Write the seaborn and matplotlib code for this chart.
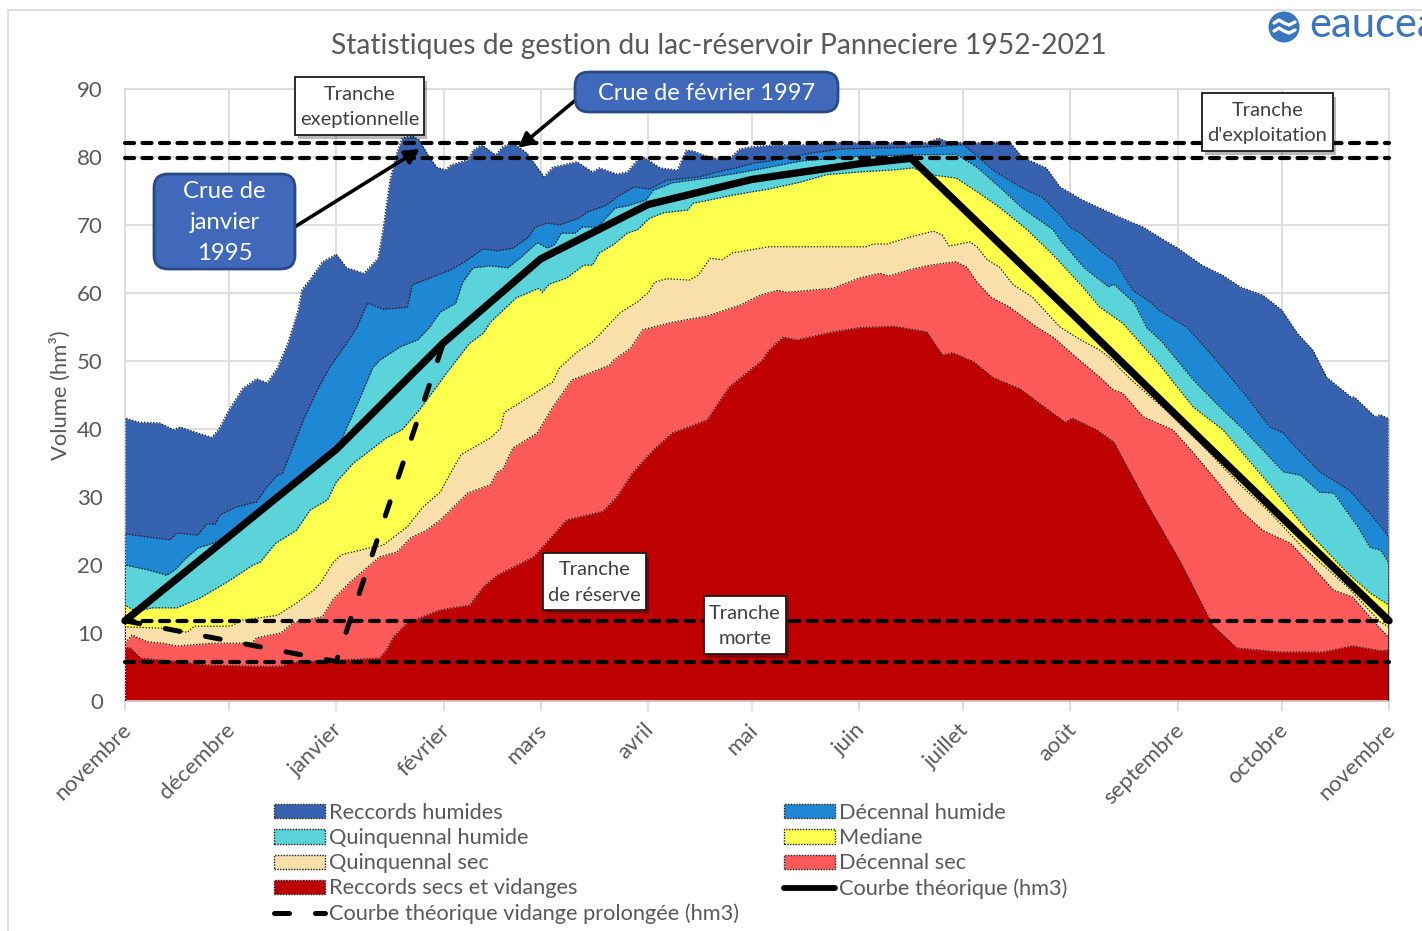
import matplotlib
matplotlib.use("Agg")
import matplotlib.pyplot as plt
import seaborn as sns
import pandas as pd
from matplotlib.patches import Rectangle, FancyBboxPatch, FancyArrowPatch, Circle, Patch
from matplotlib.lines import Line2D

month_days = [0, 30, 61, 92, 120, 151, 181, 212, 242, 273, 304, 334, 365]
month_labels = ["novembre", "décembre", "janvier", "février", "mars", "avril", "mai", "juin",
                "juillet", "août", "septembre", "octobre", "novembre"]

rec_hum_d = [0,4,10,14,16,21,25,27,30,34,38,41,44,47,50,51,54,57,61,64,66,69,73,74.5,76.5,78.5,80,83,85,87.5,90,92.5,94,99,100.5,103,107,109,112,116,119,121,123.5,130.5,135,137,142,145,148,150,154.5,159.5,162,164,167,171,175,177.5,181,188,196,203,222,231.5,235,237.5,246,255.5,259,266,270,276,287,294,300,304,311,317,322,328.5,334,338.5,343,347,354,355,361,362.5,365]
rec_hum_v = [41.6,41,40.9,39.9,40.3,39.4,38.8,39.9,42.8,46,47.4,46.8,49,52.6,57.5,60.4,62.4,64.6,65.7,63.7,63.4,62.9,65.1,69.3,76.6,80.6,82.8,83.1,82.5,80.3,78.5,78.1,78.8,79.6,81,81.8,80.3,81.5,82.1,80.6,78.5,77.1,78.5,79.3,77.8,78.4,77.5,77.8,79.6,79.9,78.4,78.1,81,80.9,80.3,79.7,80,81.2,81.5,81.8,81.8,82.1,82.1,82.1,82.8,82.2,82.1,82.2,80,78.4,75.6,73.8,71.2,69.7,67.8,66.6,64.1,62.6,60.9,59.7,57.5,54.1,51.6,47.6,44.7,44.7,41.8,42.1,41.5]

dec_hum_d = [0,4,13,15,21,23.5,26,27.5,32,38,41,44,45.5,48.5,51.5,55.5,59,64,67,70,74.5,81.5,83,89,94,97.5,103.5,107.5,112,116.5,118.5,122,125.5,131,133.5,139,142,147,151.5,156.5,166,171,176.5,181.5,186,198.5,207,217,231.5,242,245,250.5,258.5,265,270,273,276,281.5,286,291,296,298.5,306.5,310.5,317,324,330.5,334.5,337,345,353.5,359.5,365]
dec_hum_v = [24.6,24.3,23.7,24.7,24.4,26,26,27.4,28.5,29.3,31.5,33.2,33.5,37.4,41.3,45.7,49,52.6,55,58.5,57.6,57.9,61.2,62.4,63.4,64.4,66.5,66.2,66.6,68.2,69.7,70.3,70,71,71.9,72.9,74.1,75.6,75.3,76.6,77.1,77.8,78.4,79.1,79.4,80.6,81.2,81.3,81.5,81.8,80.6,78.1,75.6,74,71.5,69.6,68.8,66.3,64.6,60.4,58.7,57.5,55,52.8,49,44.7,40.3,39.4,37.9,33.7,31,27.6,24.1]

qui_hum_d = [0,6.5,12,14.5,17,21,25.5,32,37,42,47.5,55,61,63.5,66,69.5,71.5,73.5,79.5,84.5,88,91,95.5,97.5,100.5,105.5,110.5,114,119,122,124,126,130,132,136.5,141.5,145,150.5,152.5,158,168,176.5,186,195,212,226.5,240,246,252.5,259,268,270,277,284,285.5,291.5,295,299.5,308.5,317,323,334.5,339.5,345,349,356,359.5,362.5,365]
qui_hum_v = [20,19.3,18.5,19.3,20.7,22.5,23.2,25.1,26.9,29.1,31.8,34.7,36.9,39.6,42.4,46.5,49,50.1,52.1,53.1,55,57.2,58.5,61.6,63.7,64,63.7,65.1,67.4,66.6,67.1,68.8,68.8,69.7,69.7,72.5,72.8,73.7,75.1,76.2,76.9,77.6,78.5,79.4,80.1,80.3,80.4,78.5,75.6,72.5,69.3,67.8,63.7,60.9,61.3,58.5,54.9,52.8,47.2,42.8,39.9,33.7,33.2,30.7,30.6,25.6,22.6,22.2,20.3]

mediane_d = [0,3,8,15,21.5,29.5,37,39,43.5,49.5,53.5,58.5,61,66,75.5,80,85,94,99.5,103.5,105.5,113,119.5,120.5,122.5,127.5,132.5,135,137,141,145,148,151.5,155.5,162.5,164,169,175.5,186,195,202.5,212,222,227.5,232.5,240,246,252.5,260.5,268,276,281.5,288,298,308.5,317,324,332.5,342,353,359.5,365]
mediane_v = [14.1,13.2,13.7,13.7,15.1,17.5,20,20.4,23.2,25.1,28.1,29.6,32.2,35,38.7,39.9,42.8,49,52.6,54.1,55.7,59.3,60.7,60.1,61.3,62.2,64.1,64.1,65.9,67.1,68.8,69.3,71,71.8,72.2,73.2,73.7,74.4,75.3,76.3,77.4,77.8,78.1,78.4,77.4,76.9,74.9,72.6,69.3,65.6,61.2,57.9,55.6,49.9,43.2,39.9,35.7,30.6,24.7,18.8,15.9,14.1]

qui_sec_d = [0,11,18,20,30.5,34,44,49.5,54.5,56.5,60,62.5,70.5,74.5,81.5,86,91,94,97,105.5,108.5,109.5,123.5,125.5,130.5,135,143,148,151,153,156.5,163,165.5,169,172.5,175.5,186,193,214,216,220,226.5,233.5,236,238,244,246,249,252.5,256.5,262,270,276,281.5,284.5,290,300.5,310.5,322,330.5,339.5,353,362.5,365]
qui_sec_v = [10.9,10.7,10.1,11,11,11.9,12.6,14.4,16.3,17.4,20.3,21.5,22.5,22.9,25.6,28.5,30.7,33.5,36.2,38.7,40.1,42.4,46.9,49,51.3,52.8,57.1,58.7,60,61.6,62.1,61.9,62.6,65.1,64.9,65.9,66.8,66.8,66.8,67.2,67.2,68.2,69.1,68.5,66.9,67.5,66.8,64.9,63.8,61.2,59.4,55,53.1,51.6,50.4,47.5,42.8,37.9,31.8,27.8,22.9,16.8,11.6,10.9]

dec_sec_d = [0,2,6.5,11,15,25.5,36.5,38,45,48.5,57,60,65,68,73.5,78.5,82.5,87,91,99,105.5,107.5,109,112,119,123.5,129,140,141,146,149.5,158,168,177.5,183.5,188.5,191,204.5,212,218,220.5,226.5,232.5,240,243,246,250,255.5,263.5,268,275,281.5,285.5,288,294,298,302.5,308.5,315.5,322,328.5,336.5,343,349,354.5,362,365]
dec_sec_v = [8.5,9.7,8.7,8.5,8.1,8.5,8.5,9.3,10,11.5,12.4,14.9,17.5,18.8,21.2,21.9,24,25.1,26.6,30.6,31.8,33.7,34,37.2,39.4,43.2,47.2,49.4,50.1,51.9,54.6,55.7,56.6,58.2,59.7,60.4,60.1,60.7,62.2,62.9,62.5,63.4,64.1,64.6,63.8,61.6,59.4,57.9,54.9,53.5,50.4,47.6,45.7,45.3,41.8,40.9,39.9,36.5,32.2,28.1,25.1,23.2,19.7,16.3,15.3,10.9,9.3]

rec_sec_d = [0,1.5,4.5,13,23.5,37,45,48.5,73.5,75.5,77.5,81.5,91,99.5,103.5,107.5,118,127.5,138,142,146.5,152.5,158,168,174.5,184,186,190,194,204.5,212,222,231.5,236,239,245,250.5,258.5,265,271.5,273.5,280.5,285.5,295,304.5,314,321,333.5,346,354.5,362.5,365]
rec_sec_v = [7.8,7.8,6.3,5.9,5.3,5.1,5.1,5.7,6.3,7.5,9.4,11.5,13.4,14.1,16.8,18.5,21.2,26.6,27.9,30,33.5,36.9,39.4,41.3,46.2,50.1,51.6,53.5,53.1,54.3,54.9,55.1,54.3,50.9,51.2,49.9,47.6,45.9,43.4,41,41.6,39.9,38.1,29.1,20.7,11.2,7.8,7.2,7.2,8.1,7.4,7.5]

theo_d = [0, 61, 92, 120, 151, 181, 212, 227, 273, 304, 334, 365]
theo_v = [11.8, 37, 52.7, 65, 73, 76.7, 79, 79.8, 57.2, 41.8, 27, 11.8]
prol_d = [0, 61, 92]
prol_v = [11.8, 5.8, 52.7]
seuils = [82.1, 79.8, 11.7, 5.7]

series = [("Reccords humides", rec_hum_d, rec_hum_v, "#3762b0"),
          ("Décennal humide", dec_hum_d, dec_hum_v, "#1f88d4"),
          ("Quinquennal humide", qui_hum_d, qui_hum_v, "#5ad4d8"),
          ("Mediane", mediane_d, mediane_v, "#ffff4d"),
          ("Quinquennal sec", qui_sec_d, qui_sec_v, "#f9dfaa"),
          ("Décennal sec", dec_sec_d, dec_sec_v, "#ff5a5a"),
          ("Reccords secs et vidanges", rec_sec_d, rec_sec_v, "#bf0000")]

W, H = 1422, 931
sns.set_theme(style="whitegrid")
plt.rcParams["font.family"] = ["Lato", "DejaVu Sans"]
plt.rcParams["lines.scale_dashes"] = False
GREY = "#595959"
TXT = "#404040"

fig = plt.figure(figsize=(W / 100, H / 100), dpi=100, facecolor="white")
ax = fig.add_axes([125 / W, 1 - 701 / H, (1389 - 125) / W, (701 - 89) / H])
ax.set_xlim(0, 365)
ax.set_ylim(0, 90)

for name, d, v, col in series:
    ax.fill_between(d, v, 0, color=col, linewidth=0, zorder=2)
    frame = pd.DataFrame({"d": [d[0]] + d + [d[-1]], "v": [0] + v + [0]})
    sns.lineplot(data=frame, x="d", y="v", ax=ax, sort=False, estimator=None, color="#1c1c1c",
                 linewidth=0.9, linestyle=(0, (1, 1.2)), legend=False, zorder=3)

for s in seuils:
    frame = pd.DataFrame({"d": [0, 365], "v": [s, s]})
    sns.lineplot(data=frame, x="d", y="v", ax=ax, color="black", linewidth=3, estimator=None,
                 linestyle=(0, (6.5, 6.1)), dash_capstyle="round", legend=False, zorder=4, clip_on=False)

sns.lineplot(x=prol_d, y=prol_v, ax=ax, color="black", linewidth=3.6, estimator=None, sort=False,
             linestyle=(0, (10.8, 18.7)), dash_capstyle="round", legend=False, zorder=5)
sns.lineplot(x=theo_d, y=theo_v, ax=ax, color="black", linewidth=5.3, estimator=None, sort=False,
             solid_capstyle="round", solid_joinstyle="miter", legend=False, zorder=6, clip_on=False)

ax.set_xticks(month_days)
ax.set_xticklabels([""] * len(month_days))
for d, lab in zip(month_days, month_labels):
    ax.annotate(lab, xy=(d, 0), xycoords=("data", "axes fraction"), xytext=(-3, -13.5),
                textcoords="offset points", rotation=45, ha="right", va="top",
                rotation_mode="anchor", fontsize=16, color=GREY, annotation_clip=False)
ax.set_yticks(range(0, 91, 10))
ax.tick_params(axis="y", labelsize=16, labelcolor=GREY, length=0, pad=16)
ax.tick_params(axis="x", length=7, width=1.2, color="#d9d9d9", pad=8, bottom=True)
ax.grid(True, color="#d9d9d9", linewidth=1.2, zorder=0)
ax.set_axisbelow(True)
for sp in ax.spines.values():
    sp.set_color("#d9d9d9")
    sp.set_linewidth(1.2)
ax.set_xlabel("")
ax.set_ylabel("")

ftr = fig.transFigure
def fx(x): return x / W
def fy(y): return 1 - y / H

fig.text(fx(719), fy(46), "Statistiques de gestion du lac-réservoir Panneciere 1952-2021",
         ha="center", va="center", fontsize=20.3, color=GREY)
fig.text(fx(60), fy(395), "Volume (hm³)", rotation=90, ha="center", va="center", fontsize=15.8, color=GREY)

fig.add_artist(Line2D([fx(8), fx(W)], [fy(10), fy(10)], color="#d9d9d9", lw=1.2, transform=ftr))
fig.add_artist(Line2D([fx(8), fx(8)], [fy(10), fy(H)], color="#d9d9d9", lw=1.2, transform=ftr))

def note(l, t, r, b, lines):
    fig.add_artist(Rectangle((fx(l + 3), fy(b + 4)), (r - l) / W, (b - t) / H, transform=ftr,
                             facecolor="#000000", alpha=0.28, edgecolor="none", zorder=7))
    fig.add_artist(Rectangle((fx(l), fy(b)), (r - l) / W, (b - t) / H, transform=ftr,
                             facecolor="white", edgecolor="#1a1a1a", linewidth=1.3, zorder=8))
    fig.text(fx((l + r) / 2), fy((t + b) / 2 + 1), lines, ha="center", va="center", fontsize=14.5,
             color=TXT, zorder=9, linespacing=1.6)

note(295, 77, 424, 135, "Tranche\nexeptionnelle")
note(1202, 93, 1333, 151, "Tranche\nd'exploitation")
note(543, 553, 646, 610, "Tranche\nde réserve")
note(704, 596, 786, 654, "Tranche\nmorte")

def callout(l, t, r, b, text, size, spacing, dy=0):
    px_box = FancyBboxPatch((l + 14, H - b + 14), r - l - 28, b - t - 28, boxstyle="round,pad=14,rounding_size=14",
                            facecolor="#4069bc", edgecolor="#2a4a86", linewidth=2,
                            transform=None, zorder=8)
    fig.add_artist(px_box)
    fig.text(fx((l + r) / 2), fy((t + b) / 2 + dy), text, ha="center", va="center", fontsize=size,
             color="white", zorder=9, linespacing=spacing)

def arrow(x0, y0, x1, y1):
    fig.add_artist(FancyArrowPatch((x0, H - y0), (x1, H - y1), transform=None, arrowstyle="-|>",
                                   mutation_scale=22, color="black", linewidth=2.6, shrinkA=0, shrinkB=0, zorder=7))

arrow(293, 228, 420, 149)
arrow(578, 98, 518, 148)
callout(154, 174, 295, 269, "Crue de\njanvier\n1995", 17.2, 1.6, 1)
callout(575, 72, 838, 112, "Crue de février 1997", 17, 1.0, 2)

# logo
fig.add_artist(Circle((1284, H - 27), 15.5, transform=None, facecolor="#3a76bd", edgecolor="none", zorder=8))
for yy in (23, 31):
    fig.add_artist(Line2D([fx(1274), fx(1279), fx(1284), fx(1289), fx(1295)],
                          [fy(yy), fy(yy - 3), fy(yy), fy(yy + 2), fy(yy - 1)],
                          color="white", lw=2.4, transform=ftr, zorder=9))
fig.text(fx(1309), fy(25), "eaucea", ha="left", va="center", fontsize=30, color="#3a76bd", zorder=9)

def sw(col):
    return Patch(facecolor=col, edgecolor="#1c1c1c", linewidth=1.0, linestyle=(0, (1, 1)))
col = dict((n, c) for n, _, _, c in series)
handles = [sw(col["Reccords humides"]), sw(col["Quinquennal humide"]), sw(col["Quinquennal sec"]),
           sw(col["Reccords secs et vidanges"]),
           Line2D([], [], color="black", lw=3.6, linestyle=(0, (10.8, 18.7)), dash_capstyle="round"),
           sw(col["Décennal humide"]), sw(col["Mediane"]), sw(col["Décennal sec"]),
           Line2D([], [], color="black", lw=4.2)]
labels = ["Reccords humides", "Quinquennal humide", "Quinquennal sec", "Reccords secs et vidanges",
          "Courbe théorique vidange prolongée (hm3)", "Décennal humide", "Mediane", "Décennal sec",
          "Courbe théorique (hm3)"]
fig.legend(handles, labels, ncols=2, loc="upper left", bbox_to_anchor=(fx(274), fy(803)),
           frameon=False, fontsize=15.7, labelcolor=GREY, handlelength=2.32, handleheight=0.62,
           handletextpad=0.22, columnspacing=2.05, labelspacing=0.235, borderpad=0, borderaxespad=0)

fig.savefig("out.png", dpi=100, facecolor="white")
